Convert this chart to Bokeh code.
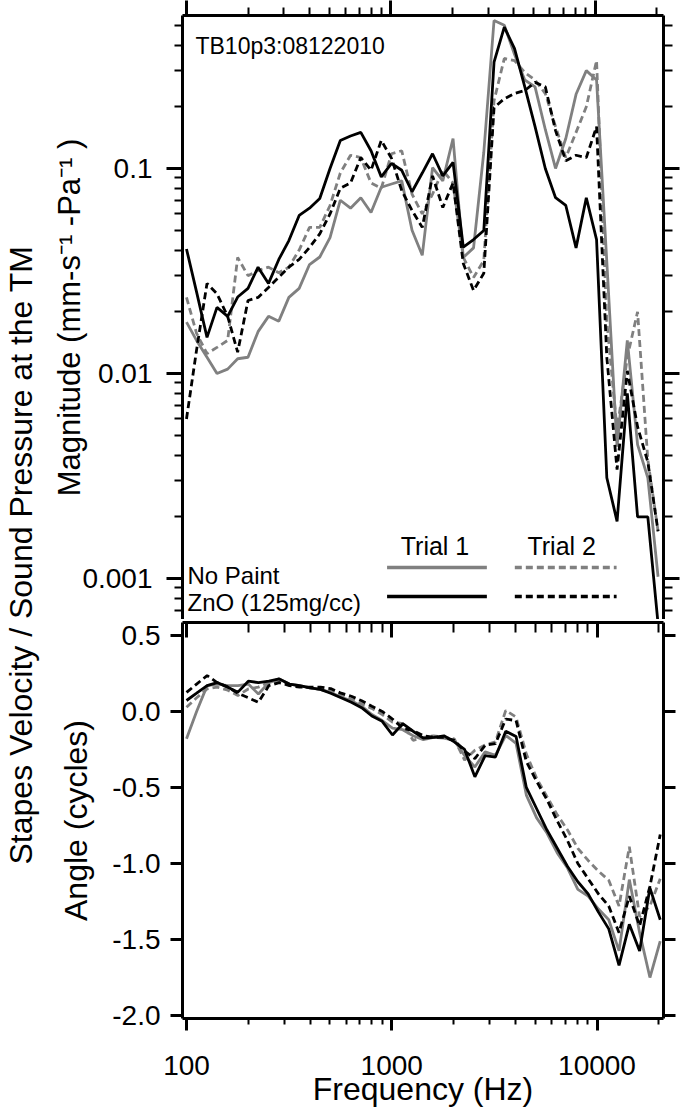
import math
from bokeh.plotting import figure
from bokeh.layouts import row, column
from bokeh.models import (LogAxis, LinearAxis, FixedTicker, CustomJSTickFormatter,
                          Label, Range1d)
from bokeh.embed import file_html
from bokeh.resources import INLINE

FONT = "Liberation Sans"
GRAY = "#808080"
BLACK = "#000000"

# ---------------- data ----------------
freq = [100, 112, 126, 141, 159, 178, 200, 224, 252, 283, 317, 356, 400, 449, 504,
        566, 635, 713, 800, 898, 1008, 1131, 1270, 1425, 1600, 1796, 2016, 2263,
        2540, 2851, 3200, 3592, 4032, 4525, 5080, 5702, 6400, 7184, 8063, 9051,
        10159, 11404, 12800, 14368, 16127, 18102, 20319]

mag_nopaint_t1 = [0.0178, 0.0145, 0.012, 0.0100, 0.0105, 0.0118, 0.0120, 0.016, 0.019, 0.018,
                  0.0235, 0.026, 0.034, 0.037, 0.046, 0.070, 0.064, 0.072, 0.061, 0.081,
                  0.084, 0.087, 0.050, 0.0377, 0.101, 0.087, 0.14, 0.0368, 0.041, 0.12,
                  0.527, 0.50, 0.36, 0.27, 0.25, 0.155, 0.10, 0.14, 0.23, 0.30,
                  0.27, 0.035, 0.0044, 0.0145, 0.0045, 0.0031, 0.00102]
mag_nopaint_t2 = [0.0235, 0.0157, 0.0125, 0.0134, 0.0145, 0.0368, 0.030, 0.0318, 0.033, 0.031,
                  0.033, 0.040, 0.0516, 0.0516, 0.066, 0.095, 0.116, 0.113, 0.085, 0.080,
                  0.118, 0.122, 0.075, 0.060, 0.075, 0.098, 0.085, 0.0368, 0.0294, 0.0356,
                  0.214, 0.344, 0.336, 0.294, 0.27, 0.232, 0.16, 0.113, 0.15, 0.20,
                  0.336, 0.018, 0.0053, 0.012, 0.020, 0.0038, 0.0017]
mag_zno_t1 = [0.0405, 0.025, 0.015, 0.021, 0.019, 0.0236, 0.026, 0.033, 0.0275, 0.036,
              0.0445, 0.059, 0.064, 0.0714, 0.10, 0.137, 0.144, 0.150, 0.122, 0.091,
              0.106, 0.098, 0.077, 0.095, 0.118, 0.092, 0.107, 0.0413, 0.045, 0.0498,
              0.330, 0.489, 0.384, 0.25, 0.16, 0.10, 0.072, 0.066, 0.041, 0.072,
              0.045, 0.0031, 0.0019, 0.008, 0.002, 0.002, 0.0006]
mag_zno_t2 = [0.006, 0.013, 0.0275, 0.0245, 0.019, 0.0127, 0.0227, 0.0235, 0.0263, 0.0295,
              0.033, 0.036, 0.0412, 0.048, 0.060, 0.080, 0.085, 0.113, 0.098, 0.137,
              0.112, 0.078, 0.0624, 0.0516, 0.092, 0.0645, 0.085, 0.0344, 0.0254, 0.0308,
              0.198, 0.219, 0.232, 0.24, 0.263, 0.25, 0.153, 0.109, 0.116, 0.113,
              0.160, 0.012, 0.0034, 0.0103, 0.0055, 0.0037, 0.0017]

ang_nopaint_t1 = [-0.18, 0.0, 0.17, 0.18, 0.17, 0.17, 0.18, 0.115, 0.19, 0.214,
                  0.18, 0.17, 0.155, 0.145, 0.125, 0.095, 0.07, 0.035, -0.02, -0.06,
                  -0.11, -0.12, -0.16, -0.185, -0.17, -0.175, -0.19, -0.29, -0.365, -0.266,
                  -0.288, -0.157, -0.21, -0.55, -0.70, -0.80, -0.93, -1.03, -1.17, -1.215,
                  -1.30, -1.37, -1.575, -1.106, -1.455, -1.75, -1.51]
ang_nopaint_t2 = [0.028, 0.09, 0.148, 0.16, 0.14, 0.105, 0.148, 0.16, 0.19, 0.20,
                  0.18, 0.165, 0.155, 0.145, 0.13, 0.11, 0.08, 0.05, 0.02, -0.02,
                  -0.07, -0.08, -0.19, -0.17, -0.16, -0.17, -0.18, -0.32, -0.255, -0.22,
                  -0.20, 0.007, -0.037, -0.28, -0.44, -0.56, -0.68, -0.78, -0.90, -0.98,
                  -1.05, -1.11, -1.28, -0.89, -1.35, -1.28, -1.10]
ang_zno_t1 = [0.072, 0.12, 0.17, 0.19, 0.16, 0.127, 0.199, 0.19, 0.20, 0.214,
              0.18, 0.17, 0.155, 0.145, 0.12, 0.09, 0.06, 0.025, -0.03, -0.065,
              -0.155, -0.08, -0.13, -0.175, -0.17, -0.16, -0.20, -0.25, -0.43, -0.29,
              -0.30, -0.13, -0.165, -0.50, -0.64, -0.78, -0.90, -1.02, -1.12, -1.20,
              -1.32, -1.43, -1.67, -1.40, -1.575, -1.16, -1.37]
ang_zno_t2 = [0.125, 0.18, 0.236, 0.19, 0.16, 0.12, 0.09, 0.06, 0.17, 0.19,
              0.17, 0.16, 0.16, 0.16, 0.15, 0.12, 0.10, 0.07, 0.035, 0.00,
              -0.05, -0.11, -0.125, -0.16, -0.17, -0.17, -0.19, -0.26, -0.31, -0.222,
              -0.212, -0.05, -0.06, -0.33, -0.46, -0.58, -0.72, -0.85, -1.0, -1.10,
              -1.20, -1.28, -1.455, -1.215, -1.41, -1.15, -0.81]

series_names = ["No Paint", "ZnO (125mg/cc)"]
trial_names = ["Trial 1", "Trial 2"]
annotation_text = "TB10p3:08122010"

x_major = [100, 1000, 10000]
mag_major = [0.001, 0.01, 0.1]
ang_major = [-2.0, -1.5, -1.0, -0.5, 0.0, 0.5]

# ---------------- layout constants ----------------
LBL_W = 44
MAIN_W = 680 - LBL_W
TOP_H = 619
BOT_H = 490

XMIN = 95.6
XMAX_TOP = 21600
XMAX_BOT = 21080
YMAG = (10 ** -3.2, 0.5574)
YANG = (-2.0196, 0.5851)

x_minor = [m * d for d in (10, 100, 1000, 10000) for m in range(2, 10) if XMIN < m * d < XMAX_TOP]
mag_minor = [m * d for d in (0.0001, 0.001, 0.01, 0.1) for m in range(2, 10)
             if YMAG[0] < m * d < YMAG[1]]

no_labels = CustomJSTickFormatter(code="return '';")


def style_axis(ax, major_out, minor_out, labels=False, standoff=0, size="28px",
               major_in=0, minor_in=0):
    ax.axis_line_width = 3
    ax.axis_line_color = BLACK
    ax.major_tick_line_width = 3
    ax.minor_tick_line_width = 2
    ax.major_tick_line_color = BLACK
    ax.minor_tick_line_color = BLACK
    ax.major_tick_in = major_in
    ax.minor_tick_in = minor_in
    ax.major_tick_out = major_out
    ax.minor_tick_out = minor_out
    ax.major_label_text_font = FONT
    ax.major_label_text_color = BLACK
    ax.axis_label_text_font = FONT
    ax.axis_label_text_font_style = "normal"
    ax.axis_label_text_color = BLACK
    if labels:
        ax.major_label_text_font_size = size
        ax.major_label_standoff = standoff
    else:
        ax.formatter = no_labels
        ax.major_label_text_font_size = "0px"
        ax.major_label_standoff = 0


# ---------------- top panel: magnitude ----------------
top = figure(width=MAIN_W, height=TOP_H, x_axis_type="log", y_axis_type="log",
             x_axis_location="above",
             x_range=Range1d(XMIN, XMAX_TOP), y_range=Range1d(*YMAG),
             output_backend="svg", toolbar_location=None,
             min_border_left=182 - LBL_W, min_border_right=16, min_border_top=15,
             min_border_bottom=0)
top.grid.visible = False
top.outline_line_color = None
top.background_fill_color = "white"

ax = top.xaxis[0]
ax.ticker = FixedTicker(ticks=x_major, minor_ticks=x_minor)
style_axis(ax, 15, 8)

ay = top.yaxis[0]
ay.ticker = FixedTicker(ticks=mag_major, minor_ticks=mag_minor)
style_axis(ay, 16, 8, labels=True, standoff=14)
ay.formatter = CustomJSTickFormatter(code="return tick.toString();")
ay.axis_label = "Magnitude (mm-s\u207b\u00b9 -Pa\u207b\u00b9 )"
ay.axis_label_text_font_size = "31px"
ay.axis_label_standoff = -8

right = LogAxis(ticker=FixedTicker(ticks=mag_major, minor_ticks=mag_minor))
style_axis(right, 16, 9)
top.add_layout(right, "right")

LW = 2.8
DASH = "7 4"
top.line(freq, mag_nopaint_t1, line_color=GRAY, line_width=LW)
top.line(freq, mag_nopaint_t2, line_color=GRAY, line_width=LW, line_dash=DASH)
top.line(freq, mag_zno_t1, line_color=BLACK, line_width=LW)
top.line(freq, mag_zno_t2, line_color=BLACK, line_width=LW, line_dash=DASH)


def tx(px):
    # pixel column of the top frame -> frequency on its log scale
    lo, hi = math.log10(XMIN), math.log10(XMAX_TOP)
    return 10 ** (lo + (px - 182) / 482 * (hi - lo))


def ty(py):
    # pixel row of the top frame -> magnitude on its log scale
    lo, hi = math.log10(YMAG[0]), math.log10(YMAG[1])
    return 10 ** (hi - (py - 15) / 604 * (hi - lo))


def add_label(fig, x, y, text, size, align="left"):
    fig.add_layout(Label(x=x, y=y, text=text, text_font=FONT, text_font_size=size,
                         text_align=align, text_baseline="alphabetic", text_color=BLACK))


add_label(top, tx(195), ty(45), annotation_text, "23px")
add_label(top, tx(435), ty(545), trial_names[0], "25px", "center")
add_label(top, tx(562), ty(545), trial_names[1], "25px", "center")
add_label(top, tx(187), ty(575), series_names[0], "24px")
add_label(top, tx(187), ty(602), series_names[1], "24px")

legend_rows = [(ty(567), GRAY), (ty(596), BLACK)]
for yv, col in legend_rows:
    top.segment(x0=[tx(387)], y0=[yv], x1=[tx(487)], y1=[yv], line_color=col, line_width=3.5)
    top.segment(x0=[tx(515)], y0=[yv], x1=[tx(617)], y1=[yv], line_color=col, line_width=3.5,
                line_dash=DASH)

# ---------------- bottom panel: angle ----------------
bot = figure(width=MAIN_W, height=BOT_H, x_axis_type="log",
             x_range=Range1d(XMIN, XMAX_BOT), y_range=Range1d(*YANG),
             output_backend="svg", toolbar_location=None,
             min_border_left=179 - LBL_W, min_border_right=17, min_border_top=3,
             min_border_bottom=89)
bot.grid.visible = False
bot.outline_line_color = None
bot.background_fill_color = "white"

bx = bot.xaxis[0]
bx.ticker = FixedTicker(ticks=x_major, minor_ticks=[v for v in x_minor if v < XMAX_BOT])
style_axis(bx, 12, 6, labels=True, standoff=25)
bx.formatter = CustomJSTickFormatter(code="return tick.toString();")
bx.axis_label = "Frequency (Hz)"
bx.axis_label_text_font_size = "32px"
bx.axis_label_standoff = -7

# bottom edge of the magnitude panel: ticks hang down from the shared line
sep = LogAxis(ticker=FixedTicker(ticks=x_major, minor_ticks=[v for v in x_minor if v < XMAX_BOT]))
style_axis(sep, 0, 0, major_in=15, minor_in=10)
bot.add_layout(sep, "above")

by = bot.yaxis[0]
by.ticker = FixedTicker(ticks=ang_major, minor_ticks=[])
style_axis(by, 12, 0, labels=True, standoff=10)
by.formatter = CustomJSTickFormatter(code="return tick.toFixed(1);")
by.axis_label = "Angle (cycles)"
by.axis_label_text_font_size = "32px"
by.axis_label_standoff = 15

bright = LinearAxis(ticker=FixedTicker(ticks=ang_major, minor_ticks=[]))
style_axis(bright, 12, 0)
bot.add_layout(bright, "right")

bot.line(freq, ang_nopaint_t1, line_color=GRAY, line_width=LW)
bot.line(freq, ang_nopaint_t2, line_color=GRAY, line_width=LW, line_dash=DASH)
bot.line(freq, ang_zno_t1, line_color=BLACK, line_width=LW)
bot.line(freq, ang_zno_t2, line_color=BLACK, line_width=LW, line_dash=DASH)

# ---------------- shared y label ----------------
lab = figure(width=LBL_W, height=TOP_H + BOT_H, x_range=Range1d(0, 1), y_range=Range1d(0, 1),
             x_axis_location=None, y_axis_location=None, min_border=0,
             output_backend="svg", toolbar_location=None)
lab.grid.visible = False
lab.outline_line_color = None
lab.add_layout(Label(x=0.46, y=0.5, text="Stapes Velocity / Sound Pressure at the TM",
                     angle=math.pi / 2, text_align="center", text_baseline="middle",
                     text_font=FONT, text_font_size="32px", text_color=BLACK))

layout = row(lab, column(top, bot, spacing=0), spacing=0)

with open("out.html", "w") as f:
    f.write(file_html(layout, INLINE))
